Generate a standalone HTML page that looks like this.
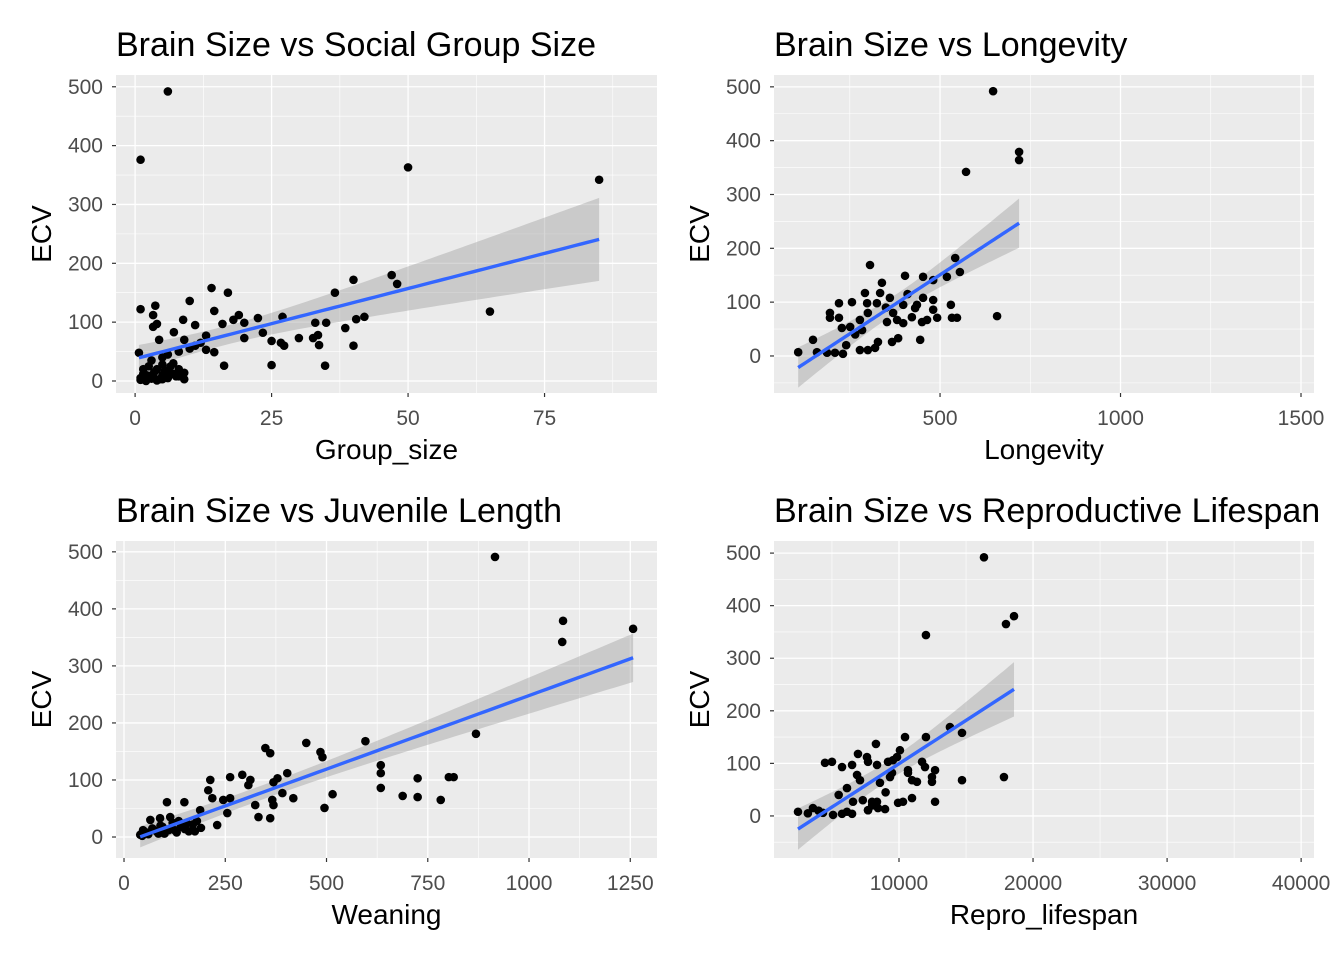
<!DOCTYPE html>
<html><head><meta charset="utf-8"><style>
html,body{margin:0;padding:0;background:#fff;}
svg{display:block;font-family:"Liberation Sans",Arial,sans-serif;}
</style></head><body>
<svg id="chart" width="1344" height="960" viewBox="0 0 1344 960"></svg>
<script>
// ---- Panel 1: Group_size vs ECV ----
const groupSize = [1,3.7,3.3,3.3,4,4.4,10,14,17,14.5,8.8,11,7.1,13,16,18,19,20,22.5,20,23.4,25,26.7,27.3,27,30,32.6,33.5,33.7,33,35,36.6,38.5,40,40,40.5,42,47,48,16.3,25,34.8,13,14.5,0.7,1,1.5,2,3,3.5,4,4.5,5,5.5,6,6.5,7,7.5,8,9,9,2.5,5,7,3,5,6,8,10,11,12,9,1,6,50,85,65,2,4,6,8,1.5,1,2,3,4,5,2.5,3.5];
const ecv1 = [122,128,112,92,97,70,136,158,150,119,104,95,83,77,97,104,112,99,107,73,82,68,65,60,109,73,73,78,61,99,99,150,90,172,60,105,109,180,165,26,27,26,53,49,48,5,12,0,8,15,20,3,10,18,5,25,12,8,20,14,3,25,28,30,35,40,45,50,55,60,65,70,376,492,363,342,118,10,2,15,8,20,2,6,4,1,3,9,5];
// ---- Panel 2: Longevity vs ECV ----
const longevity = [107,148,159,187,209,231,195,195,220,220,228,251,256,278,284,292,298,300,306,278,300,320,328,325,334,339,353,361,367,370,384,381,398,403,398,422,431,436,445,453,450,464,453,481,481,492,481,530,533,547,542,555,658,572,647,719,719,519,240,265,350,410];
const ecv2 = [7,30,7,6,6,4,80,71,98,71,52,54,100,67,48,117,98,80,169,11,11,15,26,98,117,136,63,108,26,80,33,67,61,149,95,72,89,95,30,147,63,67,108,104,86,71,141,95,71,71,182,156,74,342,492,379,364,147,20,40,90,115];
// ---- Panel 3: Weaning vs ECV ----
const weaning = [40,47,106,149,89,114,213,208,218,230,188,245,262,292,312,307,255,262,324,332,349,361,361,366,369,369,379,391,403,418,450,485,490,495,515,596,634,634,634,688,725,725,782,802,814,869,916,1082,1084,1257,45,55,60,70,80,90,100,110,120,130,140,150,160,170,180,190,65,95,125,155,85,175,135];
const ecv3 = [4,12,61,61,33,35,100,82,68,21,47,65,105,109,100,91,42,68,56,35,156,147,33,65,56,96,103,77,112,68,165,149,140,51,75,168,126,112,86,72,103,70,65,105,105,181,491,342,379,365,2,8,5,15,10,20,6,12,25,8,18,14,10,22,28,16,30,18,12,24,6,10,28];
// ---- Panel 4: Repro_lifespan vs ECV ----
const reproLifespan = [2465,3580,4330,5080,5750,6120,6500,4480,5000,5750,6500,6940,7610,7690,8360,6870,7090,6120,6570,7690,7990,8580,7690,8360,8430,8960,8280,9180,9550,9850,9330,9480,9930,10300,10970,10070,10450,10670,10670,10970,11340,11720,11940,12010,12460,12460,12690,12690,13800,14700,14700,17830,16340,12010,17980,18580,3200,4000,5500,7300,8000,9000];
const ecv4 = [8,15,6,2,4,8,4,101,103,93,97,118,112,103,97,78,68,53,27,11,27,63,11,27,15,13,137,103,106,112,74,82,25,27,34,125,150,87,82,68,65,103,93,150,74,65,87,27,169,158,68,74,492,344,365,380,5,10,40,30,20,45];

const xTicks1=[0,25,50,75], xTicks2=[500,1000,1500], xTicks3=[0,250,500,750,1000,1250], xTicks4=[10000,20000,30000,40000];
const yTicks=[0,100,200,300,400,500];

const NS="http://www.w3.org/2000/svg";
const svg=document.getElementById('chart');
function mk(tag,attrs,parent){const e=document.createElementNS(NS,tag);for(const k in attrs)e.setAttribute(k,attrs[k]);(parent||svg).appendChild(e);return e;}

const panels=[
 {id:'group-size',title:'Brain Size vs Social Group Size',xlab:'Group_size',xs:groupSize,ys:ecv1,L:116,R:657,T:75,B:393,xmin:-3.5,xmax:95.6,ymin:-20.4,ymax:520,xt:xTicks1,xm:[12.5,37.5,62.5,87.5],ym:[50,150,250,350,450],fmt:v=>String(v)},
 {id:'longevity',title:'Brain Size vs Longevity',xlab:'Longevity',xs:longevity,ys:ecv2,L:774,R:1314,T:75,B:393,xmin:40,xmax:1536,ymin:-68.8,ymax:522,xt:xTicks2,xm:[250,750,1250],ym:[-50,50,150,250,350,450],fmt:v=>String(v)},
 {id:'weaning',title:'Brain Size vs Juvenile Length',xlab:'Weaning',xs:weaning,ys:ecv3,L:116,R:657,T:541,B:858,xmin:-19.8,xmax:1316,ymin:-36.8,ymax:519,xt:xTicks3,xm:[125,375,625,875,1125],ym:[50,150,250,350,450],fmt:v=>String(v)},
 {id:'repro-lifespan',title:'Brain Size vs Reproductive Lifespan',xlab:'Repro_lifespan',xs:reproLifespan,ys:ecv4,L:774,R:1314,T:541,B:858,xmin:675,xmax:40960,ymin:-80,ymax:523,xt:xTicks4,xm:[5000,15000,25000,35000],ym:[-50,50,150,250,350,450],fmt:v=>String(v)}
];

panels.forEach(p=>{
 const g=mk('g',{});
 
 
 const sx=v=>p.L+(v-p.xmin)/(p.xmax-p.xmin)*(p.R-p.L);
 const sy=v=>p.B-(v-p.ymin)/(p.ymax-p.ymin)*(p.B-p.T);
 const bg=mk('rect',{x:p.L,y:p.T,width:p.R-p.L,height:p.B-p.T,fill:'#EBEBEB'},g);
 
 
 p.xm.forEach(v=>mk('line',{x1:sx(v),x2:sx(v),y1:p.T,y2:p.B,stroke:'#fff','stroke-width':0.6},g));
 p.ym.forEach(v=>{if(v>p.ymin&&v<p.ymax)mk('line',{x1:p.L,x2:p.R,y1:sy(v),y2:sy(v),stroke:'#fff','stroke-width':0.6},g);});
 p.xt.forEach(v=>{
  mk('line',{x1:sx(v),x2:sx(v),y1:p.T,y2:p.B,stroke:'#fff','stroke-width':1.3},g);
  mk('line',{x1:sx(v),x2:sx(v),y1:p.B,y2:p.B+4,stroke:'#333','stroke-width':1.2},g);
  const t=mk('text',{x:sx(v),y:p.B+32,'text-anchor':'middle','font-size':21,fill:'#4D4D4D'},g);
  t.textContent=p.fmt(v);
  
  
 });
 yTicks.forEach(v=>{
  mk('line',{x1:p.L,x2:p.R,y1:sy(v),y2:sy(v),stroke:'#fff','stroke-width':1.3},g);
  mk('line',{x1:p.L-4,x2:p.L,y1:sy(v),y2:sy(v),stroke:'#333','stroke-width':1.2},g);
  const t=mk('text',{x:p.L-13,y:sy(v)+7,'text-anchor':'end','font-size':21,fill:'#4D4D4D'},g);
  t.textContent=String(v);
  
  
 });
 const n=p.xs.length; let mx=0,my=0;
 for(let i=0;i<n;i++){mx+=p.xs[i];my+=p.ys[i];} mx/=n;my/=n;
 let sxx=0,sxy=0; for(let i=0;i<n;i++){sxx+=(p.xs[i]-mx)**2;sxy+=(p.xs[i]-mx)*(p.ys[i]-my);}
 const b=sxy/sxx,a=my-b*mx; let sse=0; for(let i=0;i<n;i++)sse+=(p.ys[i]-a-b*p.xs[i])**2;
 const s=Math.sqrt(sse/(n-2)); const x0=Math.min(...p.xs),x1=Math.max(...p.xs);
 const up=[],lo=[],ln=[];
 for(let k=0;k<=80;k++){const x=x0+(x1-x0)*k/80;const f=a+b*x;const se=1.98*s*Math.sqrt(1/n+(x-mx)**2/sxx);
  up.push(sx(x)+','+sy(f+se));lo.unshift(sx(x)+','+sy(f-se));ln.push(sx(x)+','+sy(f));}
 const band=mk('polygon',{points:up.concat(lo).join(' '),fill:'#999','fill-opacity':0.4},g);
 
 
 for(let i=0;i<n;i++){
  const c=mk('circle',{cx:sx(p.xs[i]),cy:sy(p.ys[i]),r:4.3,fill:'#000'},g);
  
  
 }
 const fl=mk('polyline',{points:ln.join(' '),fill:'none',stroke:'#3366FF','stroke-width':3.4},g);
 
 
 const tt=mk('text',{x:p.L,y:p.T-19,'font-size':34,fill:'#000'},g);
 tt.textContent=p.title;
 
 
 const xl=mk('text',{x:(p.L+p.R)/2,y:p.B+66,'text-anchor':'middle','font-size':28,fill:'#000'},g);
 xl.textContent=p.xlab;
 
 
 const cy=(p.T+p.B)/2, cx=p.L-65;
 const yl=mk('text',{x:cx,y:cy,'text-anchor':'middle','font-size':28,fill:'#000',transform:`rotate(-90 ${cx} ${cy})`},g);
 yl.textContent='ECV';
 
 
});
</script>
</body></html>
